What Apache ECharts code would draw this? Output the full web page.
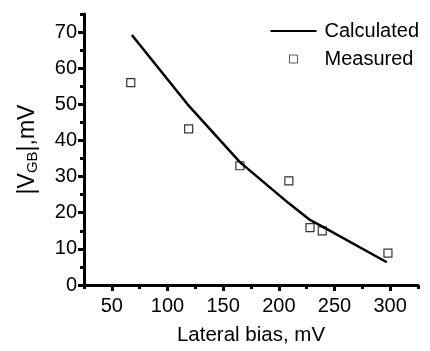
<!DOCTYPE html>
<html>
<head>
<meta charset="utf-8">
<script src="https://cdn.jsdelivr.net/npm/echarts@6/dist/echarts.min.js"></script>
<style>
  html, body { margin: 0; padding: 0; background: #fff; }
  #chart { width: 430px; height: 351px; }
</style>
</head>
<body>
<div id="chart"></div>
<script>
// values
var calcX = [68, 118, 165, 209, 228, 240, 297];
var calcY = [69.2, 50, 34, 22.6, 18, 16, 6.3];
var measX = [67, 119, 165, 209, 228, 239, 298];
var measY = [56, 43.2, 33, 28.8, 15.9, 15, 8.8];
var xMajor = [50, 100, 150, 200, 250, 300];
var xMinor = [25, 75, 125, 175, 225, 275, 325];
var yMajor = [0, 10, 20, 30, 40, 50, 60, 70];
var yMinor = [5, 15, 25, 35, 45, 55, 65, 75];

var font = 'Liberation Sans, Arial, sans-serif';

var calcData = [];
for (var i = 0; i < calcX.length; i++) calcData.push([calcX[i], calcY[i]]);
var measData = [];
for (var j = 0; j < measX.length; j++) measData.push([measX[j], measY[j]]);

var myChart = echarts.init(document.getElementById('chart'));

var axisLine = { show: true, lineStyle: { color: '#000', width: 3 } };

var option = {
  animation: false,
  grid: { left: 84, right: 12, top: 14, bottom: 61 },
  legend: {
    orient: 'vertical',
    right: 6,
    top: 16,
    itemWidth: 46,
    itemHeight: 8,
    itemGap: 8,
    textStyle: { fontFamily: font, fontSize: 20, color: '#000', padding: [0, 0, 0, 3] },
    data: [
      { name: 'Calculated', itemStyle: { color: 'rgba(0,0,0,0)', borderWidth: 0 } },
      { name: 'Measured', icon: 'path://M0,0 H8 V8 H0 Z', itemStyle: { color: '#fff', borderColor: '#000', borderWidth: 0.8 } }
    ]
  },
  xAxis: [{
    type: 'value',
    min: 25, max: 325,
    name: 'Lateral bias, mV',
    nameLocation: 'middle',
    nameGap: 40,
    nameTextStyle: { fontFamily: font, fontSize: 20.5, color: '#000' },
    axisLine: axisLine,
    axisTick: { show: true, length: 6, customValues: xMajor, lineStyle: { color: '#000', width: 3 } },
    axisLabel: { customValues: xMajor, fontFamily: font, fontSize: 20, color: '#000', margin: 11 },
    splitLine: { show: false }
  }, {
    type: 'value',
    min: 25, max: 325,
    position: 'bottom',
    axisLine: { show: false },
    axisTick: { show: true, length: 4, customValues: xMinor, lineStyle: { color: '#000', width: 3 } },
    axisLabel: { show: false },
    splitLine: { show: false }
  }],
  yAxis: [{
    type: 'value',
    min: 0, max: 75,
    name: '|V{s|GB}|,mV',
    nameLocation: 'middle',
    nameGap: 44,
    nameTextStyle: {
      fontFamily: font, fontSize: 23, color: '#000',
      rich: { s: { fontFamily: font, fontSize: 15, color: '#000', verticalAlign: 'bottom', padding: [10, 0, 0, 0] } }
    },
    axisLine: axisLine,
    axisTick: { show: true, length: 6, customValues: yMajor, lineStyle: { color: '#000', width: 3 } },
    axisLabel: { customValues: yMajor, fontFamily: font, fontSize: 20, color: '#000', margin: 7 },
    splitLine: { show: false }
  }, {
    type: 'value',
    min: 0, max: 75,
    position: 'left',
    axisLine: { show: false },
    axisTick: { show: true, length: 4, customValues: yMinor, lineStyle: { color: '#000', width: 3 } },
    axisLabel: { show: false },
    splitLine: { show: false }
  }],
  series: [{
    name: 'Calculated',
    type: 'line',
    symbol: 'none',
    data: calcData,
    lineStyle: { color: '#000', width: 2.5 },
    itemStyle: { color: '#000' }
  }, {
    name: 'Measured',
    type: 'scatter',
    symbol: 'rect',
    symbolSize: 8,
    data: measData,
    itemStyle: { color: '#fff', borderColor: '#000', borderWidth: 1.2 }
  }]
};

myChart.setOption(option);
</script>
</body>
</html>
